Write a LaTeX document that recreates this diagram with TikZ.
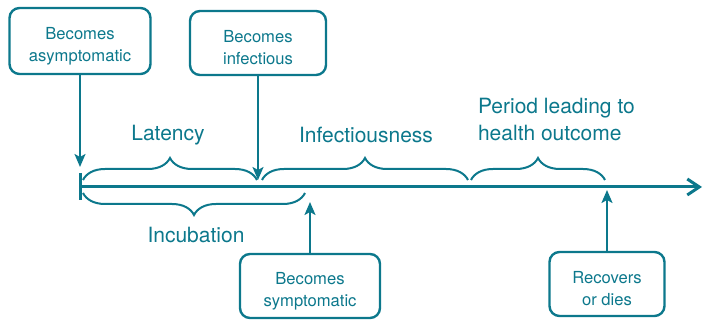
\documentclass[tikz,border=0pt]{standalone}
\usepackage{fontspec}
\setmainfont{TeX Gyre Heros}
\definecolor{myteal}{RGB}{12,120,140}
\usetikzlibrary{arrows.meta,decorations.pathreplacing,positioning}
\newcommand\evstrut{\rule{0pt}{11pt}}

\begin{document}
\begin{tikzpicture}[x=0.5pt,y=0.5pt,
    myteal, text=myteal,
    every node/.style={font=\fontsize{8.3}{11}\selectfont,align=center},
    event/.style={draw,rounded corners=5pt,line width=1.2pt,minimum width=70pt,minimum height=32pt},
    span/.style={decorate,decoration={brace,amplitude=11pt},line width=1pt},
    phase/.style={font=\fontsize{10.5}{13.5}\selectfont},
    >={Stealth[length=6.5pt,width=5.5pt,inset=1.5pt]}
    ]
    \useasboundingbox (0,0) rectangle (714,320);

    % the events
    \node[event,minimum width=70.5pt,minimum height=33pt] (asym) at (80,279) {\evstrut Becomes\\asymptomatic};
    \node[event,minimum width=68pt] (infect) at (258,277) {\evstrut Becomes\\infectious};
    \node[event] (symp) at (310,34) {\evstrut Becomes\\symptomatic};
    \node[event,minimum width=57.5pt] (recov) at (607,36) {\evstrut Recovers\\or dies};

    % the time line
    \coordinate (t0) at (80,133);
    \coordinate (tend) at (702,133);
    \draw[line width=1.5pt,-{Straight Barb[length=6pt,width=8pt]}] (t0) -- (tend);
    \draw[line width=1.5pt] ([yshift=7pt]t0) -- ([yshift=-6.5pt]t0);

    % where the events hit the line
    \coordinate (asymhit) at (80,153);
    \coordinate (infecthit) at (258,140);
    \coordinate (symphit) at (310,118);
    \coordinate (recovhit) at (607,130);
    \draw[->,line width=1pt] (asym) -- (asymhit);
    \draw[->,line width=1pt] (infect) -- (infecthit);
    \draw[->,line width=1pt] (symp) -- (symphit);
    \draw[->,line width=1pt] (recov) -- (recovhit);

    % the phases
    \draw[span] (83,140) -- (257,140);
    \draw[span] (262,140) -- (468,140);
    \draw[span] (471,140) -- (605,140);
    \draw[span,decoration={brace,mirror,amplitude=11pt}] (83,127) -- (305,127);
    \node[phase] (latency) at (168,185) {Latency};
    \node[phase] (infectious) at (366,185) {Infectiousness};
    \node[phase,align=left,anchor=west] (outcome) at (471,200) {Period leading to\\health outcome};
    \node[phase] (incubation) at (196,85) {Incubation};
\end{tikzpicture}
\end{document}
